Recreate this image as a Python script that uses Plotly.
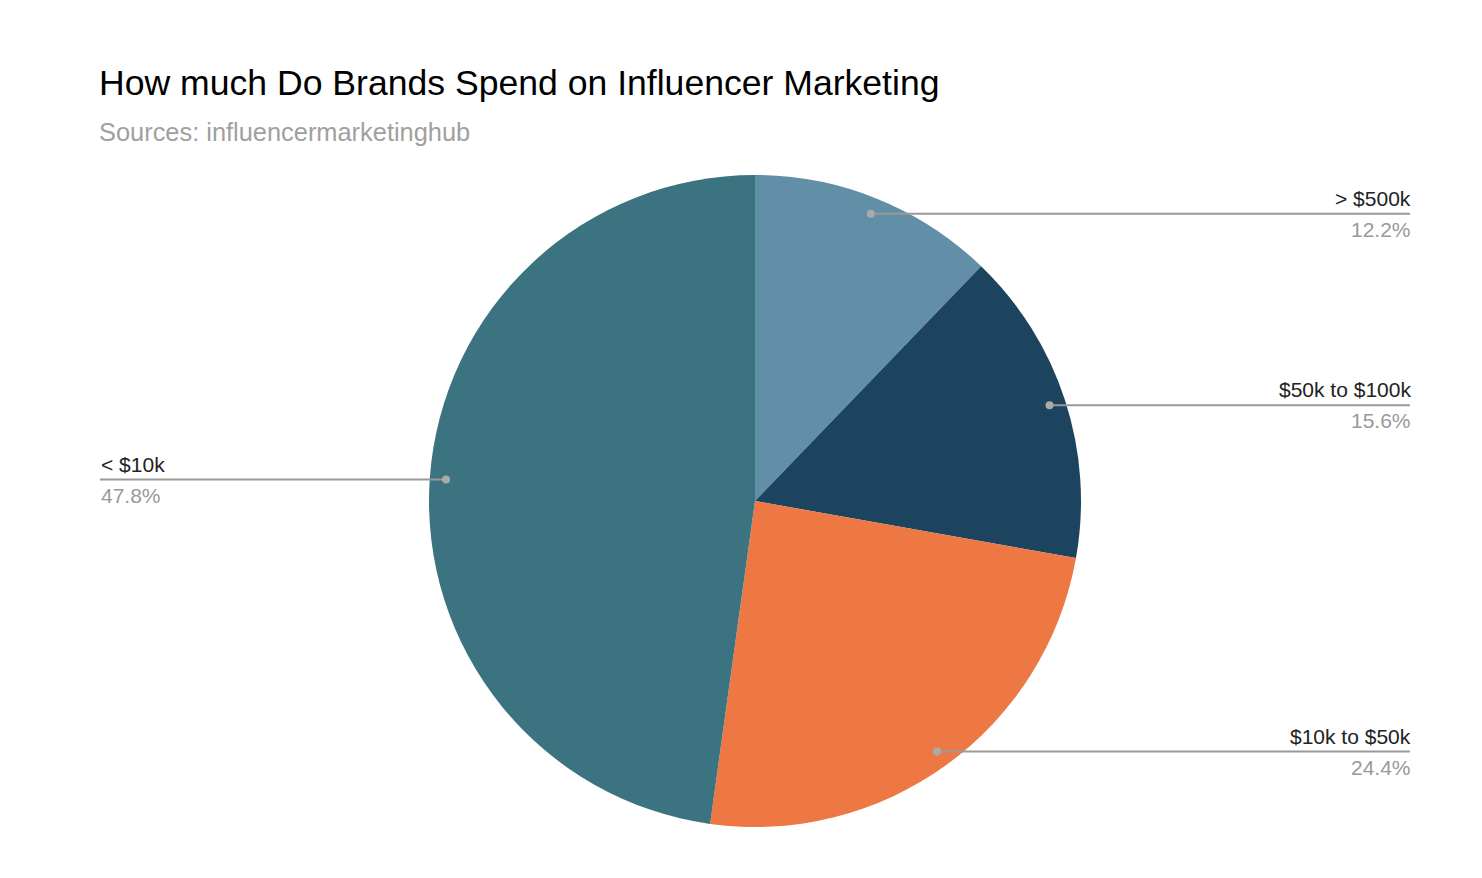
import math
import plotly.graph_objects as go

labels = ["> $500k", "$50k to $100k", "$10k to $50k", "< $10k"]
values = [12.2, 15.6, 24.4, 47.8]
colors = ["#628fa8", "#1d445e", "#ee7843", "#3b7381"]

W, H = 1482, 878
CX, CY, R = 747, 493, 326  # pie centre / radius in px (page coords)
LEFT_X, RIGHT_X = 92, 1402
FONT = "Liberation Sans, Arial, sans-serif"

fig = go.Figure(go.Pie(
    labels=labels, values=values, sort=False, direction="clockwise", rotation=0,
    marker=dict(colors=colors, line=dict(width=0)),
    textinfo="none", hoverinfo="label+percent", showlegend=False,
    domain=dict(x=[(CX - R) / W, (CX + R) / W], y=[1 - (CY + R) / H, 1 - (CY - R) / H]),
))

shapes, annotations = [], []
total = sum(values)
cum = 0
for lab, v in zip(labels, values):
    mid = (cum + v / 2) / total * 2 * math.pi
    cum += v
    px = CX + 0.95 * R * math.sin(mid)
    py = CY - 0.95 * R * math.cos(mid)
    xp, yp = px / W, 1 - py / H
    right = math.sin(mid) >= 0
    end = (RIGHT_X if right else LEFT_X) / W
    shapes.append(dict(type="line", xref="paper", yref="paper", x0=xp, x1=end, y0=yp, y1=yp,
                       line=dict(color="#999999", width=2)))
    rr = 4
    shapes.append(dict(type="circle", xref="paper", yref="paper",
                       x0=(px - rr) / W, x1=(px + rr) / W, y0=1 - (py + rr) / H, y1=1 - (py - rr) / H,
                       fillcolor="#aaaaaa", line=dict(width=0)))
    anchor = "right" if right else "left"
    annotations.append(dict(x=end, y=yp + 2 / H, xref="paper", yref="paper", text=lab, showarrow=False,
                            xanchor=anchor, yanchor="bottom", xshift=(3 if right else -1),
                            font=dict(family=FONT, size=21, color="#222222")))
    annotations.append(dict(x=end, y=yp - 2 / H, xref="paper", yref="paper", text=f"{v}%", showarrow=False,
                            xanchor=anchor, yanchor="top", xshift=(3 if right else -1),
                            font=dict(family=FONT, size=21, color="#999999")))

annotations.append(dict(x=LEFT_X / W, y=1 - 53 / H, xref="paper", yref="paper", showarrow=False,
                        text="How much Do Brands Spend on Influencer Marketing", xanchor="left", yanchor="top",
                        xshift=-3, font=dict(family=FONT, size=35.6, color="#000000")))
annotations.append(dict(x=LEFT_X / W, y=1 - 108 / H, xref="paper", yref="paper", showarrow=False,
                        text="Sources: influencermarketinghub", xanchor="left", yanchor="top",
                        xshift=-3, font=dict(family=FONT, size=25.4, color="#a0a0a0")))

fig.update_layout(width=W, height=H, margin=dict(l=0, r=0, t=0, b=0),
                  paper_bgcolor="white", plot_bgcolor="white",
                  shapes=shapes, annotations=annotations)
fig.write_html("out.html")
